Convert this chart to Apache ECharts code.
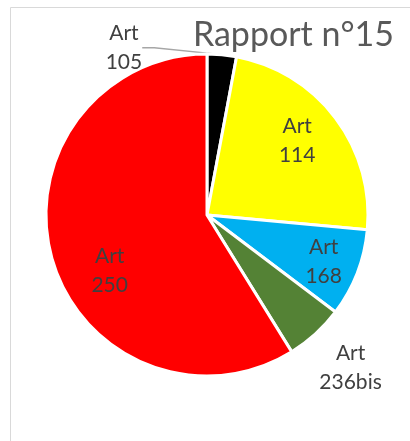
<!DOCTYPE html>
<html>
<head>
<meta charset="utf-8">
<script src="https://cdn.jsdelivr.net/npm/echarts@6/dist/echarts.min.js"></script>
<style>
  html, body { margin: 0; padding: 0; background: #fff; }
  #main { width: 410px; height: 441px; }
</style>
</head>
<body>
<div id="main"></div>
<script>
// slices, clockwise from 12 o'clock
const categories = ['Art 105', 'Art 114', 'Art 168', 'Art 236bis', 'Art 250'];
const values = [1, 8, 3, 2, 20];
const palette = ['#000000', '#ffff00', '#00b0f0', '#548235', '#ff0000'];

const outsideIdx = [0, 3];   // labels drawn outside the pie
const font = 'Lato, "Open Sans", sans-serif';

var chartDom = document.getElementById('main');
var myChart = echarts.init(chartDom);

// small nudges of the inner labels, like Excel's own placement
const innerOffsets = { 1: [-8, 0], 2: [2, 2], 4: [21, 22] };

const pieData = categories.map((name, i) => ({
    name: name,
    value: values[i],
    itemStyle: { color: palette[i] },
    label: { show: outsideIdx.indexOf(i) >= 0 },
    labelLine: { show: i === 0 }
}));

// transparent copy only used to place the inner labels a bit further out
const labelData = categories.map((name, i) => ({
    name: name,
    value: values[i],
    label: {
        show: outsideIdx.indexOf(i) < 0,
        offset: innerOffsets[i] || [0, 0]
    }
}));

var option = {
    animation: false,
    graphic: [{
        type: 'rect',
        shape: { x: 10.5, y: 7.5, width: 440, height: 460 },
        style: { fill: 'none', stroke: '#d9d9d9', lineWidth: 1 },
        silent: true
    }],
    title: {
        text: 'Rapport n°15',
        right: 16,
        top: 18,
        padding: 0,
        textStyle: { fontFamily: font, fontSize: 34, fontWeight: 'normal', color: '#595959' }
    },
    series: [
        {
            name: 'Rapport',
            type: 'pie',
            center: [207, 215],
            radius: [0, 161],
            startAngle: 90,
            clockwise: true,
            avoidLabelOverlap: false,
            silent: true,
            itemStyle: { borderColor: '#ffffff', borderWidth: 3 },
            label: {
                position: 'outside',
                formatter: (p) => p.name.replace(' ', '\n'),
                fontFamily: font,
                fontSize: 21,
                lineHeight: 29,
                color: '#404040'
            },
            labelLine: {
                length: 12,
                length2: 12,
                lineStyle: { color: '#a6a6a6', width: 1.3 }
            },
            labelLayout: function (p) {
                const r = p.labelRect;
                if (p.dataIndex === 0) {
                    return { x: r.x - 116, y: r.y + r.height / 2 + 5, align: 'center', verticalAlign: 'middle' };
                }
                if (p.dataIndex === 3) {
                    return { x: r.x + 10, y: r.y + r.height / 2 + 25, align: 'center', verticalAlign: 'middle' };
                }
            },
            data: pieData
        },
        {
            name: 'labels',
            type: 'pie',
            center: [207, 215],
            radius: [0, 240],
            startAngle: 90,
            clockwise: true,
            silent: true,
            z: 5,
            itemStyle: { color: 'rgba(0,0,0,0)' },
            label: {
                position: 'inside',
                formatter: (p) => p.name.replace(' ', '\n'),
                fontFamily: font,
                fontSize: 21,
                lineHeight: 29,
                color: '#404040'
            },
            labelLine: { show: false },
            data: labelData
        }
    ]
};

myChart.setOption(option);
</script>
</body>
</html>
